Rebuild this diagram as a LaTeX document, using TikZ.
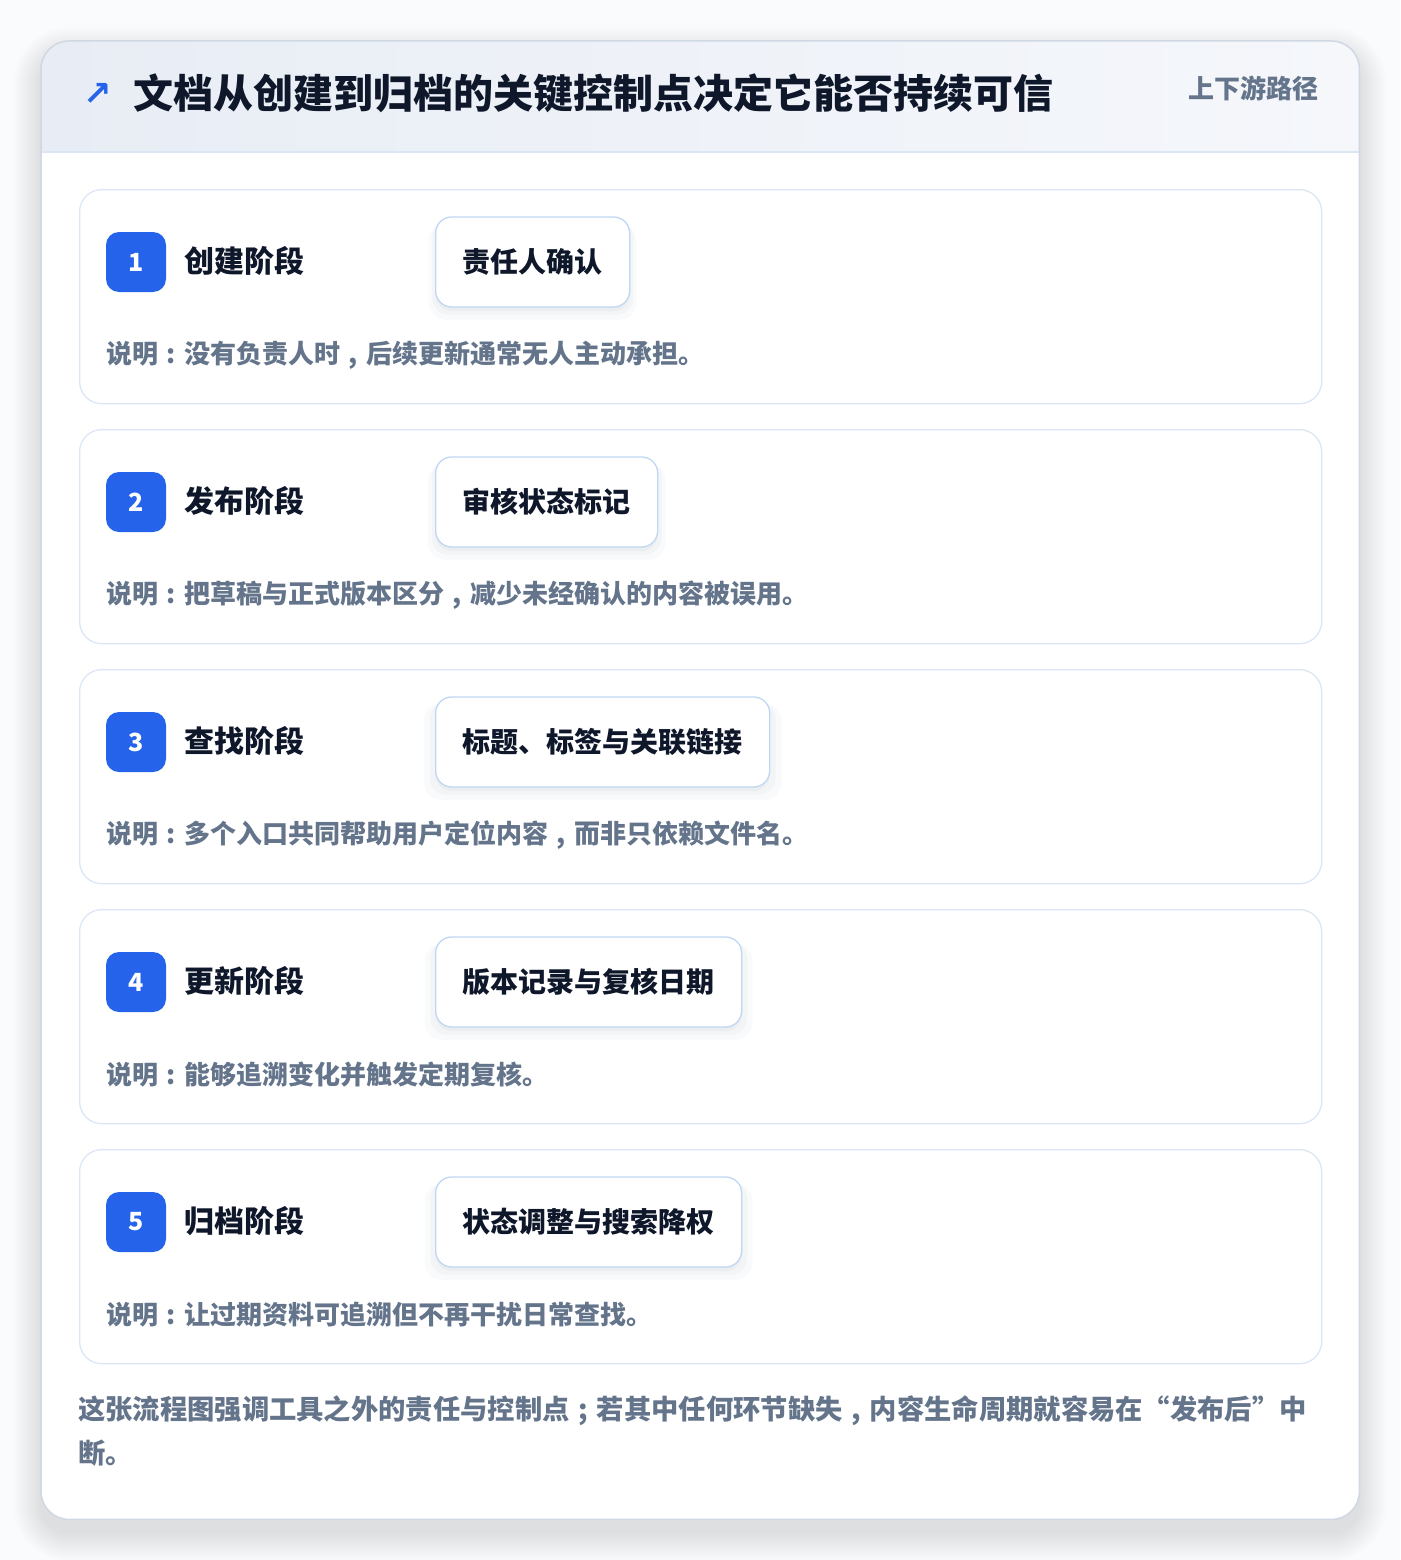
\documentclass[tikz,border=0pt]{standalone}
\usepackage{fontspec}
\newfontfamily\cjk{Noto Sans CJK SC}
\newfontfamily\sym{DejaVu Sans}
\newcommand{\pcolon}{\makebox[1em][c]{:}}
\newcommand{\pcomma}{\makebox[1em][c]{,}}
\newcommand{\psemi}{\makebox[1em][c]{;}}
\usetikzlibrary{shadows}
\definecolor{pagebg}{HTML}{FAFBFC}
\definecolor{cardborder}{HTML}{CFD8E3}
\definecolor{hdrL}{HTML}{E8EDF5}
\definecolor{hdrR}{HTML}{F5F7FB}
\definecolor{hdrline}{HTML}{DBE6F4}
\definecolor{titlecol}{HTML}{0F172A}
\definecolor{subcol}{HTML}{64748B}
\definecolor{stageline}{HTML}{DCE7F5}
\definecolor{badgeblue}{HTML}{2563EB}
\definecolor{tagline}{HTML}{C0D7F4}
\definecolor{desccol}{HTML}{64748B}
\definecolor{shadowcol}{HTML}{1E3A5F}
\tikzset{
  outercard/.style={fill=white, rounded corners=28pt, inner sep=0, minimum width=1318pt, minimum height=1478pt, anchor=north west},
  stagecard/.style={draw=stageline, fill=white, rounded corners=22pt, line width=1.3pt, inner sep=0, minimum width=1242pt, minimum height=214pt, anchor=north west},
  badge/.style={fill=badgeblue, rounded corners=13pt, minimum width=60pt, minimum height=60pt, inner sep=0, text=white, font=\cjk\bfseries\fontsize{25}{25}\selectfont},
  stagename/.style={anchor=west, inner sep=0, font=\cjk\bfseries\fontsize{30}{30}\selectfont, text=titlecol},
  tagbox/.style={draw=tagline, fill=white, rounded corners=16pt, line width=1.3pt, minimum height=90pt, inner xsep=27pt, inner ysep=0, anchor=west, font=\cjk\bfseries\fontsize{28}{28}\selectfont, text=titlecol,
    drop shadow={shadow xshift=0pt, shadow yshift=-9pt, shadow scale=1.07, opacity=0.022, fill=shadowcol},
    drop shadow={shadow xshift=0pt, shadow yshift=-6pt, shadow scale=1.035, opacity=0.028, fill=shadowcol},
    drop shadow={shadow xshift=0pt, shadow yshift=-4pt, shadow scale=1.0, opacity=0.032, fill=shadowcol}},
  desc/.style={anchor=west, inner sep=0, font=\cjk\bfseries\fontsize{26}{26}\selectfont, text=desccol},
  foot/.style={anchor=west, inner sep=0, font=\cjk\bfseries\fontsize{27.3}{28}\selectfont, text=desccol},
}
\begin{document}
\begin{tikzpicture}[x=1pt,y=-1pt]
\useasboundingbox (0,0) rectangle (1400,1560);
\fill[pagebg] (0,0) rectangle (1400,1560);
% outer card shadow
\foreach \k in {1,...,28}{
  \fill[shadowcol, opacity=0.0045, rounded corners={28pt+\k pt}] (41-\k,41-\k+14) rectangle (1359+\k,1519+\k+14);
}
\node[outercard] (card) at (41,41) {};
% header
\begin{scope}
  \clip[rounded corners=28pt] (card.north west) rectangle (card.south east);
  \shade[left color=hdrL, right color=hdrR] (41,41) rectangle (1359,152);
\end{scope}
\coordinate (hl) at (41,152);
\coordinate (hr) at (1359,152);
\draw[hdrline, line width=1.3pt] (hl) -- (hr);
\draw[cardborder, line width=1.5pt, rounded corners=28pt] (card.north west) rectangle (card.south east);
\node[anchor=west, inner sep=0, text=badgeblue, font=\sym\bfseries\fontsize{34}{34}\selectfont] (arrow) at (83,94) {↗};
\node[anchor=west, inner sep=0, text=titlecol, font=\cjk\bfseries\fontsize{40}{42}\selectfont] (title) at (133,93) {文档从创建到归档的关键控制点决定它能否持续可信};
\node[anchor=east, inner sep=0, text=subcol, font=\cjk\bfseries\fontsize{26}{26}\selectfont] (sub) at (1319,88) {上下游路径};
% stages
\foreach \i/\nm/\tg/\ds in {
  1/{创建阶段}/{责任人确认}/{说明\pcolon 没有负责人时\pcomma 后续更新通常无人主动承担。},
  2/{发布阶段}/{审核状态标记}/{说明\pcolon 把草稿与正式版本区分\pcomma 减少未经确认的内容被误用。},
  3/{查找阶段}/{标题、标签与关联链接}/{说明\pcolon 多个入口共同帮助用户定位内容\pcomma 而非只依赖文件名。},
  4/{更新阶段}/{版本记录与复核日期}/{说明\pcolon 能够追溯变化并触发定期复核。},
  5/{归档阶段}/{状态调整与搜索降权}/{说明\pcolon 让过期资料可追溯但不再干扰日常查找。}}{
  \pgfmathsetmacro{\oy}{240*(\i-1)}
  \node[stagecard] (card\i) at (79,189+\oy) {};
  \node[badge] (badge\i) at (136,262+\oy) {\i};
  \node[stagename] (name\i) at (184,261+\oy) {\nm};
  \node[tagbox] (tag\i) at (435,262+\oy) {\tg};
  \node[desc] (desc\i) at (106,355+\oy) {\ds};
}
\node[foot] (foot1) at (78,1411) {这张流程图强调工具之外的责任与控制点\psemi 若其中任何环节缺失\pcomma 内容生命周期就容易在“发布后”中};
\node[foot] (foot2) at (78,1453) {断。};
\end{tikzpicture}
\end{document}
